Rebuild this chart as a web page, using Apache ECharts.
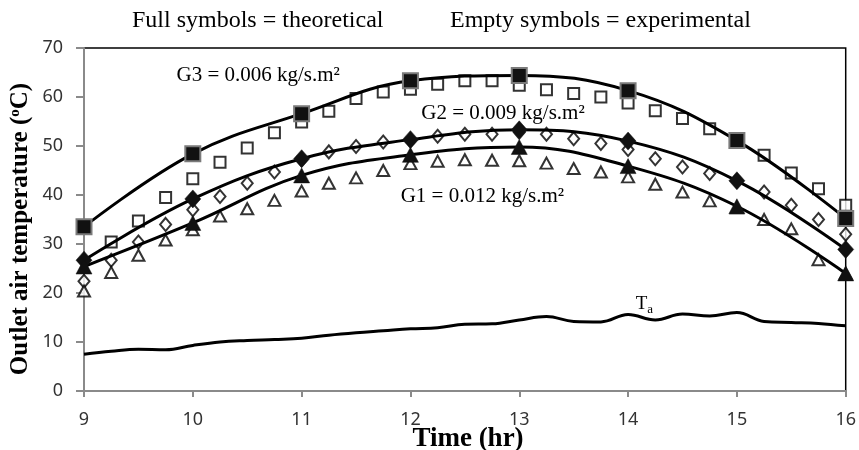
<!DOCTYPE html>
<html><head><meta charset="utf-8">
<script src="https://cdn.jsdelivr.net/npm/echarts@6/dist/echarts.min.js"></script>
<style>html,body{margin:0;padding:0;background:#fff}#c{width:859px;height:450px}</style>
</head><body><div id="c"></div>
<script>
// ---- data ----
const hoursTheo = [9, 10, 11, 12, 13, 14, 15, 16];
const g3Theo = [33.5, 48.4, 56.6, 63.3, 64.4, 61.3, 51.1, 35.2];
const g2Theo = [26.7, 39.2, 47.4, 51.3, 53.3, 51.0, 42.9, 28.9];
const g1Theo = [25.4, 34.3, 44.0, 48.2, 49.8, 45.9, 37.7, 24.0];

const hoursExp = [9, 9.25, 9.5, 9.75, 10, 10.25, 10.5, 10.75, 11, 11.25, 11.5, 11.75, 12, 12.25, 12.5, 12.75, 13, 13.25, 13.5, 13.75, 14, 14.25, 14.5, 14.75, 15, 15.25, 15.5, 15.75, 16];
const g3Exp = [33.3, 30.4, 34.7, 39.5, 43.3, 46.7, 49.6, 52.7, 54.9, 57.1, 59.7, 61.0, 61.6, 62.6, 63.3, 63.3, 62.4, 61.5, 60.7, 60.0, 58.8, 57.2, 55.6, 53.5, 51.0, 48.1, 44.5, 41.3, 37.9];
const g2Exp = [22.4, 26.7, 30.4, 34.0, 37.0, 39.7, 42.4, 44.7, 47.2, 48.8, 49.9, 50.8, 51.2, 52.0, 52.4, 52.4, 52.8, 52.4, 51.5, 50.5, 49.3, 47.4, 45.7, 44.4, 42.8, 40.6, 37.9, 35.0, 32.0];
const g1Exp = [20.4, 24.2, 27.7, 30.8, 32.9, 35.7, 37.2, 38.9, 40.8, 42.4, 43.5, 45.0, 46.4, 46.9, 47.2, 47.1, 47.0, 46.5, 45.4, 44.7, 43.7, 42.2, 40.6, 38.8, 37.4, 35.0, 33.1, 26.8, 24.0];
const taVals = [7.5, 8.1, 8.5, 8.4, 9.3, 10.0, 10.3, 10.5, 10.75, 11.4, 11.9, 12.3, 12.7, 12.9, 13.6, 13.7, 14.5, 15.2, 14.2, 14.1, 15.6, 14.5, 15.7, 15.3, 16.0, 14.2, 14.0, 13.8, 13.3];

const xTicks = [9, 10, 11, 12, 13, 14, 15, 16];
const yTicks = [0, 10, 20, 30, 40, 50, 60, 70];

const headerLeft = 'Full symbols = theoretical';
const headerRight = 'Empty symbols = experimental';
const xTitle = 'Time (hr)';
const yTitle = 'Outlet air temperature ({sup|o}C)';
const annotations = [
  { text: 'G3 = 0.006 kg/s.m²', x: 9.85, y: 64.4 },
  { text: 'G2 = 0.009 kg/s.m²', x: 12.1, y: 56.7 },
  { text: 'G1 = 0.012 kg/s.m²', x: 11.91, y: 39.6 }
];
const taLabel = { x: 14.07, y: 17.7 };

// ---- chart ----
const pairs = (xs, ys) => xs.map((x, i) => [x, ys[i]]);
const chart = echarts.init(document.getElementById('c'));
const serif = '"Liberation Serif", "Times New Roman", serif';

function expSeries(name, sym, size, ys) {
  return { name, type: 'scatter', data: pairs(hoursExp, ys), symbol: sym, symbolSize: size,
    itemStyle: { color: '#000', borderColor: '#000', borderWidth: 1.6 }, z: 2, silent: true };
}
function theoSeries(name, sym, size, ys, border) {
  return { name, type: 'line', data: pairs(hoursTheo, ys), smooth: 0.4, symbol: sym, symbolSize: size,
    showAllSymbol: true,
    lineStyle: { color: '#000', width: 3 },
    itemStyle: { color: '#111', borderColor: border || '#111', borderWidth: border ? 2 : 0.5 }, z: 3 };
}

chart.setOption({
  animation: false,
  grid: { left: 84, right: 12, top: 48, bottom: 59, show: true, borderColor: '#000', borderWidth: 1.5, backgroundColor: 'transparent' },
  xAxis: {
    type: 'value', min: xTicks[0], max: xTicks[xTicks.length - 1], interval: 1,
    axisLine: { lineStyle: { color: '#8a8a8a', width: 2 } },
    axisTick: { show: true, inside: false, length: 6, lineStyle: { color: '#8a8a8a', width: 2 } },
    axisLabel: { margin: 20, fontFamily: '"Noto Sans", sans-serif', fontSize: 18, color: '#333' },
    splitLine: { show: false }
  },
  yAxis: {
    type: 'value', min: yTicks[0], max: yTicks[yTicks.length - 1], interval: 10,
    axisLine: { show: true, lineStyle: { color: '#8a8a8a', width: 2 } },
    axisTick: { show: true, inside: false, length: 8, lineStyle: { color: '#8a8a8a', width: 2 } },
    axisLabel: { margin: 21, fontFamily: '"Noto Sans", sans-serif', fontSize: 18, color: '#333' },
    splitLine: { show: false }
  },
  series: [
    { name: 'Ta', type: 'line', data: pairs(hoursExp, taVals), smooth: 0.4, symbol: 'none',
      lineStyle: { color: '#000', width: 3 }, z: 1 },
    expSeries('G3 exp', 'emptyRect', 11, g3Exp),
    expSeries('G2 exp', 'emptyDiamond', [11, 13], g2Exp),
    expSeries('G1 exp', 'emptyTriangle', [12, 11], g1Exp),
    theoSeries('G3 theo', 'rect', 15, g3Theo, '#7a7a7a'),
    theoSeries('G2 theo', 'diamond', [16, 18], g2Theo),
    theoSeries('G1 theo', 'triangle', [16, 15], g1Theo)
  ]
});

const gfx = [
  { type: 'text', x: 132, y: 21, style: { text: headerLeft, font: '24px ' + serif, fill: '#000', verticalAlign: 'middle' } },
  { type: 'text', x: 450, y: 21, style: { text: headerRight, font: '24px ' + serif, fill: '#000', verticalAlign: 'middle' } },
  { type: 'text', x: 468, y: 439, style: { text: xTitle, font: 'bold 27px ' + serif, fill: '#000', align: 'center', verticalAlign: 'middle' } },
  { type: 'text', x: 21, y: 229, rotation: Math.PI / 2,
    style: { text: yTitle, fill: '#000', align: 'center', verticalAlign: 'middle',
      font: 'bold 25px ' + serif,
      rich: { sup: { fontFamily: serif, fontWeight: 'bold', fontSize: 15, padding: [0, 0, 11, 0] } } } }
];
annotations.forEach(a => {
  const p = chart.convertToPixel({ gridIndex: 0 }, [a.x, a.y]);
  gfx.push({ type: 'text', x: p[0], y: p[1], style: { text: a.text, font: '21px ' + serif, fill: '#000', verticalAlign: 'middle', align: 'left' } });
});
const tp = chart.convertToPixel({ gridIndex: 0 }, [taLabel.x, taLabel.y]);
gfx.push({ type: 'text', x: tp[0], y: tp[1], style: { text: 'T{sub|a}', font: '19px ' + serif, fill: '#000', verticalAlign: 'middle',
  rich: { sub: { fontFamily: serif, fontSize: 13, padding: [10, 0, 0, 0] } } } });
chart.setOption({ graphic: gfx });
</script>
</body></html>
